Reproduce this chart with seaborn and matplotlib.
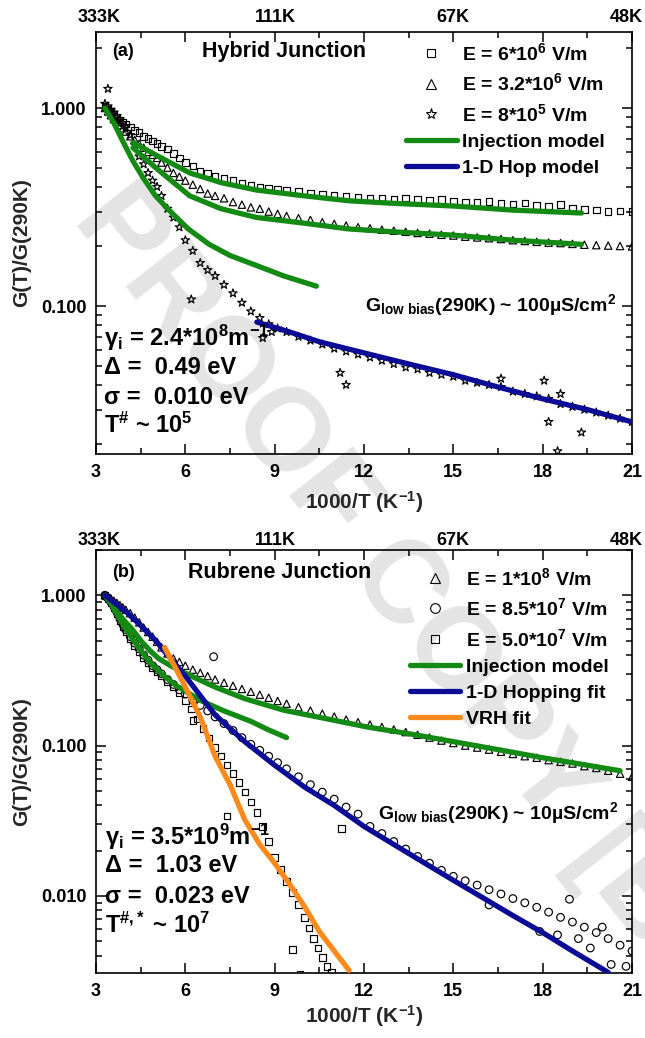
import matplotlib
matplotlib.use("Agg")
import matplotlib.pyplot as plt
from matplotlib.lines import Line2D
from matplotlib.transforms import ScaledTranslation
from matplotlib.ticker import LogLocator, NullFormatter, MultipleLocator
import seaborn as sns

# ---------------- panel (a): hybrid junction ----------------
x_a = [3.3, 3.4, 3.5, 3.6, 3.7, 3.8, 3.9, 4.0, 4.15, 4.3, 4.45, 4.6, 4.75, 4.9, 5.05, 5.2,
       5.4, 5.6, 5.8, 6.0, 6.25, 6.5, 6.75, 7.0, 7.3, 7.6, 7.9, 8.2, 8.5, 8.8, 9.1, 9.4,
       9.8, 10.2, 10.6, 11.0, 11.4, 11.8, 12.2, 12.6, 13.0, 13.4, 13.8, 14.2, 14.6, 15.0,
       15.4, 15.8, 16.2, 16.6, 17.0, 17.4, 17.8, 18.2, 18.6, 19.0, 19.4, 19.8, 20.2, 20.6, 21.0]
sq_a = [1.02, 0.99, 0.95, 0.93, 0.90, 0.87, 0.85, 0.83, 0.80, 0.77, 0.75, 0.72, 0.70, 0.68, 0.66, 0.64,
        0.62, 0.59, 0.56, 0.53, 0.51, 0.48, 0.47, 0.45, 0.44, 0.43, 0.415, 0.405, 0.40, 0.395, 0.39, 0.385,
        0.38, 0.372, 0.368, 0.362, 0.358, 0.355, 0.352, 0.35, 0.348, 0.352, 0.345, 0.342, 0.345, 0.34,
        0.336, 0.333, 0.338, 0.33, 0.327, 0.332, 0.322, 0.32, 0.325, 0.312, 0.308, 0.305, 0.30, 0.302, 0.30]
tri_a = [1.0, 0.96, 0.92, 0.88, 0.85, 0.82, 0.79, 0.76, 0.72, 0.69, 0.66, 0.63, 0.60, 0.58, 0.56, 0.53,
         0.50, 0.47, 0.45, 0.43, 0.41, 0.39, 0.37, 0.36, 0.35, 0.335, 0.325, 0.315, 0.31, 0.30, 0.292, 0.285,
         0.278, 0.272, 0.265, 0.26, 0.255, 0.25, 0.247, 0.243, 0.24, 0.237, 0.234, 0.232, 0.229, 0.227,
         0.224, 0.222, 0.22, 0.218, 0.215, 0.213, 0.211, 0.209, 0.208, 0.206, 0.204, 0.203, 0.202, 0.201, 0.20]
star_a = [1.05, 1.02, 0.98, 0.95, 0.91, 0.88, 0.84, 0.80, 0.73, 0.65, 0.57, 0.52, 0.47, 0.43, 0.40, 0.36,
          0.31, 0.28, 0.25, 0.215, 0.19, 0.165, 0.152, 0.142, 0.128, 0.116, 0.104, 0.094, 0.087, 0.081, 0.077, 0.074,
          0.070, 0.067, 0.064, 0.061, 0.059, 0.057, 0.055, 0.053, 0.051, 0.049, 0.048, 0.046, 0.045, 0.044,
          0.042, 0.041, 0.040, 0.039, 0.037, 0.036, 0.035, 0.034, 0.032, 0.031, 0.030, 0.029, 0.028, 0.027, 0.026]
star_a_x_out = [3.4, 6.2, 8.6, 8.9, 11.2, 11.4, 16.6, 18.05, 18.2, 18.6, 19.3, 18.5]
star_a_y_out = [1.25, 0.108, 0.069, 0.074, 0.046, 0.040, 0.043, 0.042, 0.026, 0.036, 0.023, 0.0185]

inj_a_x = [4.24, 5.0, 6.15, 7.2, 8.4, 10.0, 11.5, 13.0, 15.0, 17.0, 19.3]
inj_sq_a = [0.67, 0.58, 0.47, 0.42, 0.385, 0.36, 0.34, 0.33, 0.32, 0.305, 0.295]
inj_tri_a = [0.63, 0.50, 0.36, 0.31, 0.28, 0.262, 0.245, 0.237, 0.228, 0.215, 0.205]
inj_star_a_x = [3.3, 3.6, 3.9, 4.24, 4.6, 5.0, 5.5, 6.1, 6.8, 7.5, 8.4, 9.3, 10.4]
inj_star_a = [1.0, 0.84, 0.68, 0.54, 0.44, 0.36, 0.30, 0.245, 0.205, 0.18, 0.16, 0.142, 0.126]
hop_a_x = [8.4, 9.5, 10.5, 12.0, 13.5, 15.0, 16.5, 18.0, 19.5, 21.0]
hop_a = [0.083, 0.074, 0.066, 0.058, 0.051, 0.045, 0.039, 0.034, 0.030, 0.026]

# ---------------- panel (b): rubrene junction ----------------
x_b = x_a
tri_b = [1.0, 0.98, 0.95, 0.92, 0.89, 0.86, 0.83, 0.80, 0.76, 0.71, 0.66, 0.61, 0.57, 0.53, 0.49, 0.45,
         0.41, 0.38, 0.36, 0.34, 0.32, 0.305, 0.29, 0.275, 0.262, 0.25, 0.238, 0.228, 0.218, 0.208, 0.198, 0.19,
         0.18, 0.171, 0.163, 0.156, 0.149, 0.143, 0.138, 0.133, 0.128, 0.123, 0.118, 0.113, 0.108, 0.104,
         0.10, 0.097, 0.094, 0.091, 0.088, 0.085, 0.083, 0.080, 0.078, 0.076, 0.073, 0.071, 0.068, 0.065, 0.062]
circ_b = [1.0, 0.96, 0.90, 0.84, 0.77, 0.70, 0.64, 0.59, 0.53, 0.48, 0.44, 0.40, 0.37, 0.34, 0.32, 0.30,
          0.275, 0.255, 0.235, 0.22, 0.20, 0.185, 0.17, 0.155, 0.14, 0.126, 0.113, 0.102, 0.093, 0.085, 0.077, 0.070,
          0.062, 0.055, 0.049, 0.044, 0.039, 0.035, 0.029, 0.026, 0.023, 0.0205, 0.0183, 0.0165, 0.0148, 0.0135,
          0.0126, 0.0118, 0.011, 0.0103, 0.0096, 0.009, 0.0084, 0.0078, 0.0072, 0.0067, 0.0062, 0.0057, 0.0052, 0.0047, 0.0043]
circ_b_x_out = [6.95, 16.2, 17.9, 18.5, 18.9, 19.6, 20.3, 20.8, 19.2, 20.0]
circ_b_y_out = [0.39, 0.0087, 0.0058, 0.0055, 0.0095, 0.0045, 0.0035, 0.0034, 0.0052, 0.0062]
sq_b_x = [3.3, 3.4, 3.5, 3.6, 3.7, 3.8, 3.9, 4.0, 4.15, 4.3, 4.45, 4.6, 4.75, 4.9, 5.05, 5.2,
          5.4, 5.6, 5.8, 6.0, 6.2, 6.4, 6.6, 6.8, 7.0, 7.2, 7.4, 7.6, 7.8, 8.0, 8.2, 8.4,
          8.6, 8.8, 9.0, 9.2, 9.4, 9.6, 9.8, 10.0, 10.15, 10.3, 10.45, 10.6, 10.75, 10.9,
          7.4, 9.6, 9.85, 11.25, 6.26]
sq_b = [1.0, 0.95, 0.89, 0.82, 0.75, 0.68, 0.62, 0.57, 0.51, 0.46, 0.42, 0.385, 0.355, 0.33, 0.31, 0.29,
        0.265, 0.245, 0.225, 0.20, 0.175, 0.15, 0.13, 0.112, 0.097, 0.085, 0.074, 0.065, 0.057, 0.049, 0.042, 0.036,
        0.029, 0.023, 0.018, 0.015, 0.0125, 0.0105, 0.0088, 0.0072, 0.0061, 0.0052, 0.0045, 0.0039, 0.0034, 0.0031,
        0.034, 0.0044, 0.0030, 0.028, 0.147]

inj_up_b_x = [3.3, 3.5, 3.7, 4.0, 4.2, 4.5, 4.8, 5.1, 5.5, 6.2, 7.0, 8.0, 9.3, 10.8, 12.1, 13.5, 14.8, 16.5, 18.0, 19.5, 20.6]
inj_up_b = [1.0, 0.90, 0.78, 0.66, 0.60, 0.50, 0.43, 0.38, 0.34, 0.29, 0.245, 0.205, 0.172, 0.15, 0.133, 0.12, 0.108, 0.094, 0.083, 0.074, 0.068]
inj_lo_b_x = [3.3, 3.5, 3.7, 4.0, 4.2, 4.5, 4.8, 5.2, 5.7, 6.5, 7.3, 8.2, 8.8, 9.4]
inj_lo_b = [1.0, 0.88, 0.75, 0.60, 0.52, 0.43, 0.36, 0.30, 0.25, 0.20, 0.17, 0.145, 0.127, 0.113]
hop_b_x = [3.3, 4.0, 4.5, 5.0, 5.5, 6.0, 6.5, 7.0, 7.5, 8.0, 9.0, 10.0, 11.0, 12.0, 13.0, 14.0, 15.0, 16.0, 17.0, 18.0, 19.0, 20.2]
hop_b = [1.0, 0.78, 0.63, 0.50, 0.38, 0.29, 0.215, 0.16, 0.13, 0.106, 0.074, 0.053, 0.040, 0.029, 0.022, 0.0167, 0.0127, 0.0097, 0.0074, 0.0057, 0.0043, 0.0031]
vrh_b_x = [5.3, 5.7, 6.0, 6.5, 7.0, 7.5, 8.0, 8.5, 9.0, 9.5, 10.0, 10.5, 11.0, 11.5]
vrh_b = [0.45, 0.32, 0.245, 0.155, 0.085, 0.055, 0.032, 0.022, 0.0165, 0.012, 0.0085, 0.0058, 0.0043, 0.0032]

top_ticks = [3, 9, 15, 21]
top_labels = ["333K", "111K", "67K", "48K"]

GREEN = "#138a13"
BLUE = "#0b0b96"
ORANGE = "#ff8a1c"

sns.set_theme(style="ticks")
plt.rcParams["font.family"] = ["Liberation Sans", "DejaVu Sans"]
plt.rcParams["font.weight"] = "bold"
plt.rcParams["axes.labelweight"] = "bold"
plt.rcParams["mathtext.fontset"] = "custom"
plt.rcParams["mathtext.rm"] = "Liberation Sans:bold"
plt.rcParams["mathtext.it"] = "Liberation Sans:bold"
plt.rcParams["mathtext.bf"] = "Liberation Sans:bold"
plt.rcParams["axes.edgecolor"] = "black"
plt.rcParams["xtick.color"] = "black"
plt.rcParams["ytick.color"] = "black"
plt.rcParams["text.color"] = "black"

fig = plt.figure(figsize=(6.45, 10.38), dpi=100)
fig.patch.set_facecolor("white")
ax_a = fig.add_axes([96 / 645, 1 - 454 / 1038, 536 / 645, 422 / 1038])
ax_b = fig.add_axes([96 / 645, 1 - 973 / 1038, 536 / 645, 423 / 1038])

# watermark behind everything
fig.text(96 / 645, 1 - 200 / 1038, "PROOF COPY [B", rotation=-52, rotation_mode="anchor",
         ha="left", va="center", fontsize=84, color="#e4e4e4", fontweight="bold", zorder=-1)


def pts(ax, x, y, marker, s):
    sns.scatterplot(x=x, y=y, marker=marker, s=s, facecolors="none", edgecolors="black",
                    linewidth=0.85, ax=ax, zorder=1)


def fit(ax, x, y, color):
    sns.lineplot(x=x, y=y, color=color, linewidth=3.8, ax=ax, sort=False, estimator=None, zorder=3)


def style_axes(ax, ylim, top_gap_px):
    ax.set_facecolor("none")
    ax.set_yscale("log")
    ax.set_xlim(3, 21)
    ax.xaxis.set_major_locator(MultipleLocator(3))
    ax.xaxis.set_minor_locator(MultipleLocator(1.5))
    ax.set_yticks([0.01, 0.1, 1.0], labels=["0.010", "0.100", "1.000"])
    ax.set_ylim(*ylim)
    ax.yaxis.set_minor_locator(LogLocator(base=10, subs=range(2, 10)))
    ax.yaxis.set_minor_formatter(NullFormatter())
    ax.tick_params(which="both", direction="in", top=True, right=True, width=1.1, labelsize=13)
    ax.tick_params(which="major", length=7)
    ax.tick_params(which="minor", length=4)
    ax.tick_params(axis="x", pad=7)
    ax.tick_params(axis="y", pad=7)
    for sp in ax.spines.values():
        sp.set_linewidth(1.2)
        sp.set_color("black")
    # temperature labels along the top edge
    h_px = ax.get_position().height * 1038
    for xt, lab, dx in zip(top_ticks, top_labels, [3, 1, 0, -6]):
        tr = ax.get_xaxis_transform() + ScaledTranslation(dx / 100, 0, fig.dpi_scale_trans)
        ax.text(xt, 1 + top_gap_px / h_px, lab, transform=tr, ha="center", va="baseline",
                fontsize=13, fontweight="bold")
    ax.set_xlabel("1000/T (K$^{-1}$)", fontsize=15, fontweight="bold")
    ax.set_ylabel("G(T)/G(290K)", fontsize=15, fontweight="bold")


# ---- panel (a)
pts(ax_a, x_a, sq_a, "s", 22)
pts(ax_a, x_a, tri_a, "^", 28)
pts(ax_a, x_a + star_a_x_out, star_a + star_a_y_out, "*", 40)
fit(ax_a, inj_a_x, inj_sq_a, GREEN)
fit(ax_a, inj_a_x, inj_tri_a, GREEN)
fit(ax_a, inj_star_a_x, inj_star_a, GREEN)
fit(ax_a, hop_a_x, hop_a, BLUE)
style_axes(ax_a, (0.0179, 2.42), 10)
ax_a.xaxis.set_label_coords(0.5, -0.083)
ax_a.yaxis.set_label_coords(-0.121, 0.5)

ax_a.text(0.03, 0.953, "(a)", transform=ax_a.transAxes, fontsize=13, va="center", ha="left")
ax_a.text(0.198, 0.953, "Hybrid Junction", transform=ax_a.transAxes, fontsize=15.5, va="center", ha="left")
ax_a.text(0.502, 0.353, "G$_\\mathrm{low\\ bias}$(290K) ~ 100µS/cm$^\\mathrm{2}$", transform=ax_a.transAxes,
          fontsize=14, va="center", ha="left")
params_a = ["γ$_\\mathrm{i}$ = 2.4*10$^\\mathrm{8}$m$^\\mathrm{-1}$", "Δ =  0.49 eV", "σ =  0.010 eV",
            "T$^\\mathrm{\\#}$ ~ 10$^\\mathrm{5}$"]
for txt, yy in zip(params_a, [0.275, 0.204, 0.135, 0.069]):
    ax_a.text(0.015, yy, txt, transform=ax_a.transAxes, fontsize=17, va="center", ha="left")

h_a = [Line2D([], [], ls="none", marker="s", ms=6, mfc="none", mec="black", mew=0.8),
       Line2D([], [], ls="none", marker="^", ms=7, mfc="none", mec="black", mew=0.8),
       Line2D([], [], ls="none", marker="*", ms=8, mfc="none", mec="black", mew=0.8),
       Line2D([], [], color=GREEN, lw=3.8),
       Line2D([], [], color=BLUE, lw=3.8)]
l_a = ["E = 6*10$^\\mathrm{6}$ V/m", "E = 3.2*10$^\\mathrm{6}$ V/m", "E = 8*10$^\\mathrm{5}$ V/m",
       "Injection model", "1-D Hop model"]
ax_a.legend(h_a, l_a, loc="upper right", bbox_to_anchor=(0.95, 0.976), frameon=False, fontsize=14,
            handlelength=2.6, handletextpad=0.3, labelspacing=0.44, borderpad=0, borderaxespad=0)

# ---- panel (b)
pts(ax_b, x_b, tri_b, "^", 28)
pts(ax_b, x_b + circ_b_x_out, circ_b + circ_b_y_out, "o", 30)
pts(ax_b, sq_b_x, sq_b, "s", 22)
fit(ax_b, inj_up_b_x, inj_up_b, GREEN)
fit(ax_b, inj_lo_b_x, inj_lo_b, GREEN)
fit(ax_b, hop_b_x, hop_b, BLUE)
fit(ax_b, vrh_b_x, vrh_b, ORANGE)
style_axes(ax_b, (0.00307, 2.0), 5)
ax_b.xaxis.set_label_coords(0.5, -0.071)
ax_b.yaxis.set_label_coords(-0.121, 0.5)

ax_b.text(0.03, 0.946, "(b)", transform=ax_b.transAxes, fontsize=13, va="center", ha="left")
ax_b.text(0.172, 0.946, "Rubrene Junction", transform=ax_b.transAxes, fontsize=15.5, va="center", ha="left")
ax_b.text(0.526, 0.378, "G$_\\mathrm{low\\ bias}$(290K) ~ 10µS/cm$^\\mathrm{2}$", transform=ax_b.transAxes,
          fontsize=14, va="center", ha="left")
params_b = ["γ$_\\mathrm{i}$ = 3.5*10$^\\mathrm{9}$m$^\\mathrm{-1}$", "Δ =  1.03 eV", "σ =  0.023 eV",
            "T$^\\mathrm{\\#{,}*}$ ~ 10$^\\mathrm{7}$"]
for txt, yy in zip(params_b, [0.3215, 0.253, 0.182, 0.113]):
    ax_b.text(0.017, yy, txt, transform=ax_b.transAxes, fontsize=17, va="center", ha="left")

h_b = [Line2D([], [], ls="none", marker="^", ms=7, mfc="none", mec="black", mew=0.8),
       Line2D([], [], ls="none", marker="o", ms=7, mfc="none", mec="black", mew=0.8),
       Line2D([], [], ls="none", marker="s", ms=6, mfc="none", mec="black", mew=0.8),
       Line2D([], [], color=GREEN, lw=3.8),
       Line2D([], [], color=BLUE, lw=3.8),
       Line2D([], [], color=ORANGE, lw=3.8)]
l_b = ["E = 1*10$^\\mathrm{8}$ V/m", "E = 8.5*10$^\\mathrm{7}$ V/m", "E = 5.0*10$^\\mathrm{7}$ V/m",
       "Injection model", "1-D Hopping fit", "VRH fit"]
ax_b.legend(h_b, l_b, loc="upper right", bbox_to_anchor=(0.957, 0.96), frameon=False, fontsize=14,
            handlelength=2.6, handletextpad=0.3, labelspacing=0.44, borderpad=0, borderaxespad=0)

fig.savefig("out.png", dpi=100)
